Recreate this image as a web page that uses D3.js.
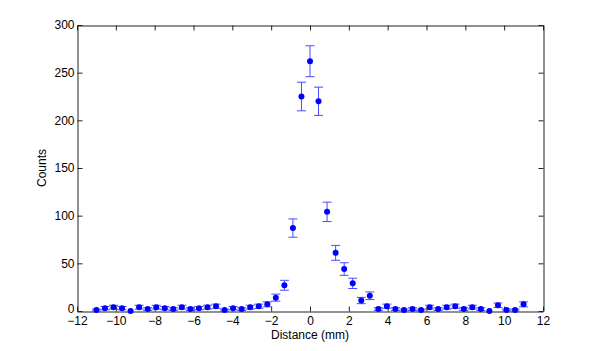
<!DOCTYPE html>
<html>
<head>
<meta charset="utf-8">
<script src="https://cdn.jsdelivr.net/npm/d3@7"></script>
<style>
  body { margin: 0; background: #fff; }
  svg text { font-family: "Liberation Sans", Arial, sans-serif; font-size: 12px; fill: #000; }
</style>
</head>
<body>
<div id="chart"></div>
<script>
// Vị trí (mm) của từng điểm đo
const distances = [-11, -10.56, -10.12, -9.68, -9.24, -8.8, -8.36, -7.92, -7.48, -7.04,
  -6.6, -6.16, -5.72, -5.28, -4.84, -4.4, -3.96, -3.52, -3.08, -2.64,
  -2.2, -1.76, -1.32, -0.88, -0.44, 0, 0.44, 0.88, 1.32, 1.76,
  2.2, 2.64, 3.08, 3.52, 3.96, 4.4, 4.84, 5.28, 5.72, 6.16,
  6.6, 7.04, 7.48, 7.92, 8.36, 8.8, 9.24, 9.68, 10.12, 10.56, 11];
// Số đếm
const counts = [1, 3, 4, 3, 0, 4, 2, 4, 3, 2,
  4, 2, 3, 4, 5, 1, 3, 2, 4, 5,
  7, 14, 27, 87, 225, 262, 220, 104, 61, 44,
  29, 11, 16, 2, 5, 2, 1, 2, 1, 4,
  2, 4, 5, 2, 4, 2, 0, 6, 1, 1, 7];
// Sai số (thanh lỗi)
const errors = [1, 1.7, 2, 1.7, 0, 2, 1.4, 2, 1.7, 1.4,
  2, 1.4, 1.7, 2, 2.2, 1, 1.7, 1.4, 2, 2.2,
  2.6, 3.7, 5.2, 9.6, 15, 16.2, 14.8, 10.2, 7.8, 6.6,
  5.4, 3.3, 4, 1.4, 2.2, 1.4, 1, 1.4, 1, 2,
  1.4, 2, 2.2, 1.4, 2, 1.4, 0, 2.4, 1, 1, 2.6];
const xTicks = [-12, -10, -8, -6, -4, -2, 0, 2, 4, 6, 8, 10, 12];
const yTicks = [0, 50, 100, 150, 200, 250, 300];

const W = 600, H = 351;
const margin = { top: 25, right: 57, bottom: 40, left: 77 };

const data = distances.map((d, i) => ({ x: d, y: counts[i], e: errors[i] }));

const x = d3.scaleLinear().domain([-12, 12]).range([margin.left, W - margin.right]);
const y = d3.scaleLinear().domain([0, 300]).range([H - margin.bottom, margin.top]);

const svg = d3.select("#chart").append("svg")
  .attr("width", W).attr("height", H);

const fmt = d3.format("d");
const tk = 5;

// trục dưới + trên
svg.append("g")
  .attr("transform", `translate(0,${y(0) + 0.5})`)
  .call(d3.axisBottom(x).tickValues(xTicks).tickFormat(fmt).tickSizeInner(-tk).tickSizeOuter(0).tickPadding(5));
svg.append("g")
  .attr("transform", `translate(0,${y(300) + 0.5})`)
  .call(d3.axisTop(x).tickValues(xTicks).tickFormat("").tickSizeInner(-tk).tickSizeOuter(0));

// trục trái + phải
svg.append("g")
  .attr("transform", `translate(${x(-12) + 0.5},0)`)
  .call(d3.axisLeft(y).tickValues(yTicks).tickFormat(fmt).tickSizeInner(-tk).tickSizeOuter(0).tickPadding(3))
  .call(g => g.selectAll(".tick text").filter(d => d === 0).attr("dy", "0.1em"));
svg.append("g")
  .attr("transform", `translate(${x(12) + 0.5},0)`)
  .call(d3.axisRight(y).tickValues(yTicks).tickFormat("").tickSizeInner(-tk).tickSizeOuter(0));

svg.selectAll(".domain, .tick line").attr("stroke", "#222");

// thanh lỗi
const eb = svg.append("g").attr("stroke", "#4a4aff").attr("stroke-width", 1).attr("fill", "none");
const cap = 4.5;
eb.selectAll("path")
  .data(data.filter(d => d.e > 0)).join("path")
  .attr("d", d => {
    const cx = x(d.x), t = y(d.y + d.e), b = y(d.y - d.e);
    return `M${cx},${t}V${b}M${cx - cap},${t}H${cx + cap}M${cx - cap},${b}H${cx + cap}`;
  });

// điểm
svg.append("g").selectAll("circle")
  .data(data).join("circle")
  .attr("cx", d => x(d.x))
  .attr("cy", d => y(d.y))
  .attr("r", 3)
  .attr("fill", "#0000ff");

// nhãn trục
svg.append("text")
  .attr("x", (x(-12) + x(12)) / 2).attr("y", 339)
  .attr("text-anchor", "middle")
  .text("Distance (mm)");
svg.append("text")
  .attr("transform", `translate(46,${(y(0) + y(300)) / 2}) rotate(-90)`)
  .attr("text-anchor", "middle")
  .text("Counts");
</script>
</body>
</html>
